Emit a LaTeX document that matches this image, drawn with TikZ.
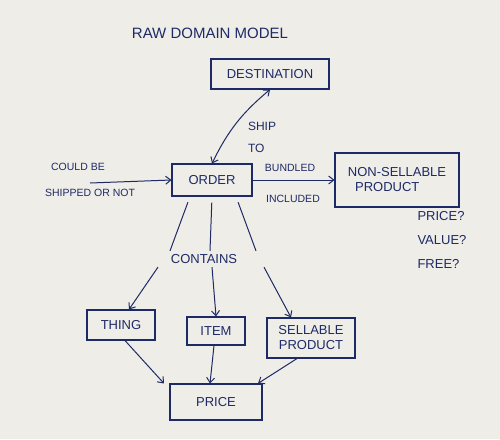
\documentclass[tikz,border=0pt]{standalone}
\usepackage{fontspec}
\setmainfont{Liberation Sans}
\usetikzlibrary{arrows.meta}
\definecolor{ink}{HTML}{1E2A66}
\definecolor{paper}{HTML}{EFEDE8}
\begin{document}
\begin{tikzpicture}[x=1pt,y=-1pt,
  every node/.style={text=ink,font=\fontsize{13}{15}\selectfont},
  box/.style={draw=ink,line width=1.1pt,inner sep=0pt},
  lbl/.style={font=\fontsize{10.5}{12}\selectfont},
  conn/.style={draw=ink,line width=1pt},
  arr/.style={conn,-{Straight Barb[length=5pt,width=8pt]}},
  bothar/.style={conn,{Straight Barb[length=5pt,width=8pt]}-{Straight Barb[length=5pt,width=8pt]}}]
\fill[paper] (0,0) rectangle (500,439);
\useasboundingbox (0,0) rectangle (500,439);

\node[font=\fontsize{15}{17}\selectfont] (title) at (210,33) {RAW DOMAIN MODEL};
\node[box,minimum width=118,minimum height=30] (dest) at (270,74) {DESTINATION};
\node[box,minimum width=80,minimum height=32] (order) at (212,180) {ORDER};
\node[box,minimum width=124,minimum height=54,align=left] (nsp) at (397,180) {NON-SELLABLE\\\ \ PRODUCT};
\node[align=left,anchor=north west,font=\fontsize{13}{24}\selectfont] (q) at (414,208) {PRICE?\\VALUE?\\FREE?};

\node[lbl,align=left,font=\fontsize{12}{22}\selectfont] (ship) at (262,137) {SHIP\\TO};

\coordinate (lstart) at (90,183);
\draw[arr] (lstart) -- (order.west);
\node[lbl] (could) at (78,167) {COULD BE};
\node[lbl] (shipped) at (90,193) {SHIPPED OR NOT};

\draw[arr] (order.east) -- (nsp.west);
\node[lbl] (bund) at (290,168) {BUNDLED};
\node[lbl] (incl) at (293,199) {INCLUDED};

\draw[bothar] (order.north) to[bend left=12] (dest.south);

\node (contains) at (204,259) {CONTAINS};
\draw[conn,shorten <=6pt] ([xshift=-22pt]order.south) -- ([xshift=-34pt]contains.north);
\draw[conn,shorten <=6pt] (order.south) -- ([xshift=6pt]contains.north);
\draw[conn,shorten <=6pt] ([xshift=24pt]order.south) -- ([xshift=52pt]contains.north);

\node[box,minimum width=68,minimum height=30] (thing) at (121,325) {THING};
\node[box,minimum width=58,minimum height=28] (item) at (216,331) {ITEM};
\node[box,minimum width=88,minimum height=40,align=center] (sell) at (311,338) {SELLABLE\\PRODUCT};
\node[box,minimum width=92,minimum height=36] (price) at (216,402) {PRICE};

\draw[arr] ([xshift=-46pt]contains.south) -- ([xshift=8pt]thing.north);
\draw[arr] ([xshift=8pt]contains.south) -- (item.north);
\draw[arr] ([xshift=60pt]contains.south) -- ([xshift=-20pt]sell.north);

\draw[arr] ([xshift=4pt]thing.south) -- ([xshift=-52pt]price.north);
\draw[arr] ([xshift=-2pt]item.south) -- ([xshift=-6pt]price.north);
\draw[arr] ([xshift=-14pt]sell.south) -- ([xshift=42pt]price.north);
\end{tikzpicture}
\end{document}
